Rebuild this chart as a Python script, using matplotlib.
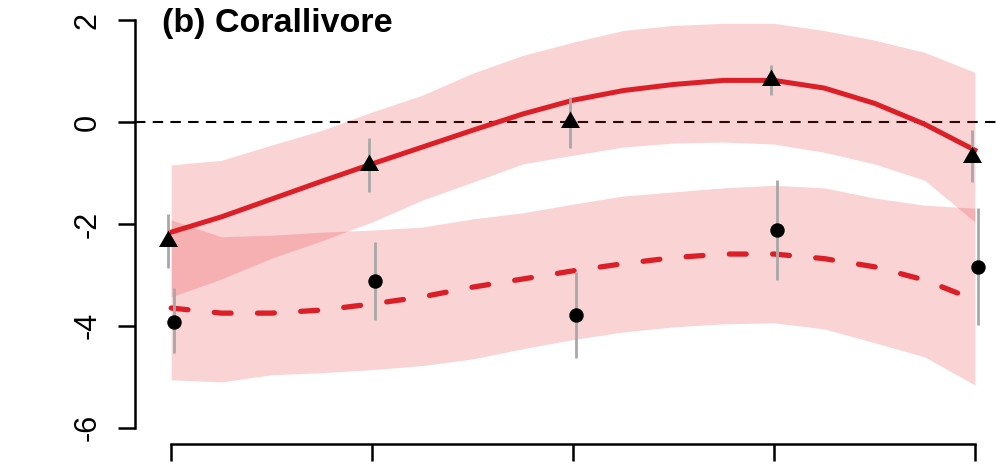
import matplotlib
matplotlib.use("Agg")
import matplotlib.pyplot as plt

plt.rcParams['font.family'] = ['Liberation Sans', 'DejaVu Sans']
plt.rcParams['axes.unicode_minus'] = False

# sampling positions along the fitted curves
x_grid = [1.0, 1.25, 1.5, 1.75, 2.0, 2.25, 2.5, 2.75, 3.0,
          3.25, 3.5, 3.75, 4.0, 4.25, 4.5, 4.75, 5.0]

# solid fit (triangles) with its band
solid_fit = [-2.16, -1.86, -1.51, -1.16, -0.82, -0.49, -0.16, 0.16, 0.43,
             0.62, 0.74, 0.82, 0.82, 0.67, 0.37, -0.04, -0.55]
solid_hi = [-0.84, -0.75, -0.45, -0.16, 0.20, 0.53, 0.96, 1.31, 1.57,
            1.80, 1.90, 1.94, 1.94, 1.80, 1.61, 1.37, 0.98]
solid_lo = [-3.43, -3.08, -2.67, -2.33, -1.96, -1.53, -1.18, -0.82, -0.65,
            -0.49, -0.41, -0.39, -0.43, -0.59, -0.82, -1.14, -1.96]

# dashed fit (circles) with its band
dashed_fit = [-3.65, -3.75, -3.75, -3.69, -3.57, -3.43, -3.24, -3.08, -2.92,
              -2.78, -2.66, -2.59, -2.59, -2.68, -2.84, -3.10, -3.49]
dashed_hi = [-1.92, -2.25, -2.22, -2.16, -2.12, -2.06, -1.90, -1.78, -1.61,
             -1.45, -1.37, -1.29, -1.24, -1.29, -1.49, -1.63, -1.69]
dashed_lo = [-5.06, -5.10, -4.96, -4.92, -4.86, -4.78, -4.65, -4.45, -4.27,
             -4.12, -4.02, -3.96, -3.94, -4.06, -4.33, -4.61, -5.16]

# observed points
x_pts = [1, 2, 3, 4, 5]
tri_y = [-2.33, -0.84, 0.0, 0.82, -0.68]
tri_lo = [-2.86, -1.37, -0.51, 0.53, -1.18]
tri_hi = [-1.80, -0.31, 0.49, 1.12, -0.16]
circ_y = [-3.92, -3.12, -3.78, -2.12, -2.84]
circ_lo = [-4.53, -3.88, -4.63, -3.10, -3.98]
circ_hi = [-3.25, -2.35, -2.94, -1.14, -1.69]

y_ticks = [-6, -4, -2, 0, 2]
title = "(b) Corallivore"

red = '#DC1F26'
band = '#E8242B'
grey = '#A8A8A8'
off = 0.015

fig = plt.figure(figsize=(9.97, 4.65), dpi=100)
ax = fig.add_axes([135 / 997, 21 / 465, 876 / 997, 440 / 465])
ax.set_xlim(0.82, 5.18)
ax.set_ylim(-6.32, 2.32)

ax.axhline(0, color='black', lw=1.5, dashes=(5, 3.5), zorder=1)

ax.fill_between(x_grid, solid_lo, solid_hi, color=band, alpha=0.2, lw=0, zorder=2)
ax.fill_between(x_grid, dashed_lo, dashed_hi, color=band, alpha=0.2, lw=0, zorder=2)

ax.plot(x_grid, solid_fit, color=red, lw=3.6, solid_joinstyle='round', zorder=3)
ax.plot(x_grid, dashed_fit, color=red, lw=3.8, dashes=(3.2, 5.0),
        dash_capstyle='round', zorder=3)

ax.vlines([x - off for x in x_pts], tri_lo, tri_hi, color=grey, lw=2, zorder=4)
ax.vlines([x + off for x in x_pts], circ_lo, circ_hi, color=grey, lw=2, zorder=4)

tri_marker = [(-1, -0.577), (1, -0.577), (0, 1.155), (-1, -0.577)]
ax.plot([x - off for x in x_pts], tri_y, ls='none', marker=tri_marker,
        ms=15.8, color='black', mew=0, zorder=5)
ax.plot([x + off for x in x_pts], circ_y, ls='none', marker='o',
        ms=10.4, color='black', mew=0, zorder=5)

for side in ['top', 'right']:
    ax.spines[side].set_visible(False)
ax.spines['left'].set_bounds(-6, 2)
ax.spines['bottom'].set_bounds(1, 5)
for side in ['left', 'bottom']:
    ax.spines[side].set_linewidth(1.8)

ax.set_yticks(y_ticks)
ax.set_yticklabels([str(t) for t in y_ticks], rotation=90, va='center', ha='right')
ax.set_xticks(x_pts)
ax.set_xticklabels([])
ax.tick_params(axis='both', length=12.2, width=1.8, direction='out')
ax.tick_params(axis='y', labelsize=22, pad=11)

fig.text(162 / 997, 1 - 32 / 465, title, fontsize=24.5, fontweight='bold',
         ha='left', va='baseline')

fig.savefig("out.png", dpi=100)
